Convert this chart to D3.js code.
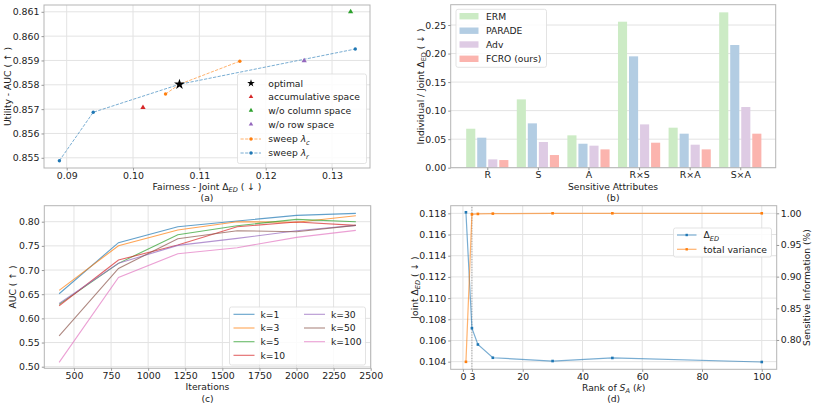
<!DOCTYPE html>
<html><head><meta charset="utf-8">
<script src="https://cdn.jsdelivr.net/npm/d3@7"></script>
<style>body{margin:0;background:#fff} svg text{font-family:"DejaVu Sans";fill:#222}</style>
</head><body><svg id="c" width="814" height="407"></svg>
<script>
// ---------- DATA ----------
// (a) trade-off
const aOptimal = [[0.1070, 0.85802]];
const aAccum = [[0.1015, 0.85707]];
const aNoCol = [[0.1328, 0.86100]];
const aNoRow = [[0.1258, 0.85899]];
const aSweepC = [[0.1049, 0.85762], [0.1070, 0.85802], [0.1161, 0.85897]];
const aSweepR = [[0.0889, 0.85488], [0.0940, 0.85687], [0.1070, 0.85802], [0.1335, 0.85947]];
const aXTicks = [0.09, 0.10, 0.11, 0.12, 0.13];
const aYTicks = [0.855, 0.856, 0.857, 0.858, 0.859, 0.860, 0.861];
// (b) bars
const bCategories = ["R", "S", "A", "R×S", "R×A", "S×A"];
const bMethods = ["ERM", "PARADE", "Adv", "FCRO (ours)"];
const bERM = [0.0683, 0.1197, 0.0567, 0.2558, 0.0701, 0.2722];
const bPARADE = [0.0526, 0.0777, 0.0420, 0.1951, 0.0596, 0.2150];
const bAdv = [0.0146, 0.0450, 0.0386, 0.0759, 0.0403, 0.1063];
const bFCRO = [0.0134, 0.0222, 0.0321, 0.0438, 0.0321, 0.0596];
const bYTicks = [0, 0.05, 0.10, 0.15, 0.20, 0.25];
// (c) curves
const cIters = [400, 800, 1200, 1600, 2000, 2400];
const cK1 = [0.651, 0.7566, 0.7897, 0.8014, 0.8131, 0.8172];
const cK3 = [0.658, 0.7503, 0.7828, 0.8000, 0.7990, 0.8124];
const cK5 = [0.629, 0.7138, 0.7731, 0.7917, 0.8048, 0.8000];
const cK10 = [0.6262, 0.7207, 0.7517, 0.7897, 0.7993, 0.7924];
const cK30 = [0.631, 0.7140, 0.7510, 0.7655, 0.7814, 0.7924];
const cK50 = [0.564, 0.7034, 0.7648, 0.7814, 0.7793, 0.7924];
const cK100 = [0.509, 0.6848, 0.7338, 0.7462, 0.7676, 0.7820];
const cLabels = ["k=1", "k=3", "k=5", "k=10", "k=30", "k=50", "k=100"];
const cXTicks = [500, 750, 1000, 1250, 1500, 1750, 2000, 2250, 2500];
const cYTicks = [0.50, 0.55, 0.60, 0.65, 0.70, 0.75, 0.80];
// (d) rank
const dRanks = [1, 3, 5, 10, 30, 50, 100];
const dDelta = [0.1181, 0.10716, 0.10562, 0.10437, 0.10406, 0.10435, 0.10397];
const dVar = [0.7655, 0.9984, 0.9990, 0.9995, 1.0000, 1.0000, 1.0000];
const dXTicks = [0, 3, 20, 40, 60, 80, 100];
const dYLTicks = [0.104, 0.106, 0.108, 0.110, 0.112, 0.114, 0.116, 0.118];
const dYRTicks = [0.80, 0.85, 0.90, 0.95, 1.00];

// ---------- STYLE ----------
const FS = 9.2, FT = 9.4;
const GRID = "#e3e3e3", SPINE = "#b5b5b5", TICK = "#999";
const TS = 2.5, TP = 1.5;
const C = {blue:"#1f77b4", orange:"#ff7f0e", green:"#2ca02c", red:"#d62728", purple:"#9467bd", brown:"#8c564b", pink:"#e377c2", black:"#000"};
const svg = d3.select("#c");

function rich(sel, parts) {
  parts.forEach(p => {
    const t = sel.append("tspan").text(p.t);
    if (p.it) t.attr("font-style", "italic");
    if (p.sub) t.attr("font-size", FS * 0.72).attr("dy", 2.4);
    if (p.up) t.attr("dy", -2.4);
  });
  return sel;
}

function frame(x, y, o) {
  const g = svg.append("g");
  const [x0, x1] = x.range(), [y0, y1] = y.range();
  if (o.vgrid) g.selectAll(null).data(o.xt).join("line")
    .attr("x1", d => x(d)).attr("x2", d => x(d)).attr("y1", y0).attr("y2", y1)
    .attr("stroke", GRID).attr("stroke-width", 1);
  if (o.hgrid !== false) g.selectAll(null).data(o.yt).join("line")
    .attr("y1", d => y(d)).attr("y2", d => y(d)).attr("x1", x0).attr("x2", x1)
    .attr("stroke", GRID).attr("stroke-width", 1);
  return g;
}

function styleAxis(a) {
  a.select(".domain").remove();
  a.selectAll(".tick line").attr("stroke", TICK);
  a.selectAll(".tick text").attr("font-size", FT).attr("fill", "#222").attr("font-family", "DejaVu Sans");
}

function axes(x, y, o) {
  const [x0, x1] = x.range(), [y0, y1] = y.range();
  const g = svg.append("g");
  g.append("rect").attr("x", x0).attr("y", y1).attr("width", x1 - x0).attr("height", y0 - y1)
    .attr("fill", "none").attr("stroke", SPINE).attr("stroke-width", 1);
  const ax = g.append("g").attr("transform", `translate(0,${y0})`)
    .call(d3.axisBottom(x).tickValues(o.xt).tickFormat(o.xf).tickSize(TS).tickPadding(TP));
  const ay = g.append("g").attr("transform", `translate(${x0},0)`)
    .call(d3.axisLeft(y).tickValues(o.yt).tickFormat(o.yf).tickSize(TS).tickPadding(TP + 0.5));
  styleAxis(ax); styleAxis(ay);
  return g;
}

function legendBox(x, y, w, h) {
  svg.append("rect").attr("x", x).attr("y", y).attr("width", w).attr("height", h)
    .attr("rx", 2).attr("fill", "rgba(255,255,255,0.85)").attr("stroke", "#dcdcdc").attr("stroke-width", 0.8);
}

const line = (x, y) => d3.line().x(d => x(d[0])).y(d => y(d[1]));

// ---------- (a) ----------
{
  const x = d3.scaleLinear().domain([0.08658, 0.13572]).range([44, 370]);
  const y = d3.scaleLinear().domain([0.85458, 0.86128]).range([168, 5]);
  frame(x, y, {xt: aXTicks, yt: aYTicks, vgrid: true});
  const series = [
    {d: aSweepC, c: C.orange}, {d: aSweepR, c: C.blue}
  ];
  series.forEach(s => {
    svg.append("path").attr("d", line(x, y)(s.d)).attr("fill", "none").attr("stroke", s.c)
      .attr("stroke-width", 1).attr("stroke-opacity", 0.6).attr("stroke-dasharray", "3.2,1.4");
    svg.selectAll(null).data(s.d).join("circle").attr("cx", d => x(d[0])).attr("cy", d => y(d[1]))
      .attr("r", 1.7).attr("fill", s.c);
  });
  const tri = d3.symbol().type(d3.symbolTriangle).size(12);
  [[aAccum, C.red], [aNoCol, C.green], [aNoRow, C.purple]].forEach(([d, c]) => {
    svg.selectAll(null).data(d).join("path").attr("d", tri)
      .attr("transform", p => `translate(${x(p[0])},${y(p[1])})`).attr("fill", c);
  });
  svg.selectAll(null).data(aOptimal).join("path").attr("d", d3.symbol().type(d3.symbolStar).size(36))
    .attr("transform", p => `translate(${x(p[0])},${y(p[1])})`).attr("fill", "#000");
  axes(x, y, {xt: aXTicks, yt: aYTicks, xf: d3.format(".2f"), yf: d3.format(".3f")});
  // legend
  legendBox(237.5, 74, 129, 89.5);
  const items = [
    {t: [{t: "optimal"}], k: "star", c: "#000"},
    {t: [{t: "accumulative space"}], k: "tri", c: C.red},
    {t: [{t: "w/o column space"}], k: "tri", c: C.green},
    {t: [{t: "w/o row space"}], k: "tri", c: C.purple},
    {t: [{t: "sweep "}, {t: "λ", it: true}, {t: "c", it: true, sub: true}], k: "line", c: C.orange},
    {t: [{t: "sweep "}, {t: "λ", it: true}, {t: "r", it: true, sub: true}], k: "line", c: C.blue}
  ];
  const ys = [83.3, 96.8, 110.5, 124.3, 139, 153];
  items.forEach((it, i) => {
    const yy = ys[i];
    if (it.k === "star") svg.append("path").attr("d", d3.symbol().type(d3.symbolStar).size(18)).attr("transform", `translate(251,${yy})`).attr("fill", it.c);
    if (it.k === "tri") svg.append("path").attr("d", d3.symbol().type(d3.symbolTriangle).size(9)).attr("transform", `translate(251,${yy})`).attr("fill", it.c);
    if (it.k === "line") {
      svg.append("line").attr("x1", 240.5).attr("x2", 261).attr("y1", yy).attr("y2", yy).attr("stroke", it.c)
        .attr("stroke-opacity", 0.6).attr("stroke-dasharray", "3.2,1.4");
      svg.append("circle").attr("cx", 251).attr("cy", yy).attr("r", 1.7).attr("fill", it.c);
    }
    rich(svg.append("text").attr("x", 268.3).attr("y", yy + 3.4).attr("font-size", FS), it.t);
  });
  rich(svg.append("text").attr("x", 207).attr("y", 189.5).attr("text-anchor", "middle").attr("font-size", FS),
    [{t: "Fairness - Joint Δ"}, {t: "ED", it: true, sub: true}, {t: " ( ↓ )", up: true}]);
  svg.append("text").attr("x", 207).attr("y", 200.5).attr("text-anchor", "middle").attr("font-size", FS).text("(a)");
  svg.append("text").attr("transform", "translate(10.5,86.5) rotate(-90)").attr("text-anchor", "middle").attr("font-size", FS).text("Utility - AUC ( ↑ )");
}

// ---------- (b) ----------
{
  const x = d3.scaleLinear().domain([-0.723, 5.70]).range([450.7, 775.7]);
  const y = d3.scaleLinear().domain([0, 0.2856]).range([167.7, 4.7]);
  frame(x, y, {xt: [], yt: bYTicks});
  const vals = [bERM, bPARADE, bAdv, bFCRO];
  const cols = ["#ccebc5", "#b3cde3", "#decbe4", "#fbb4ae"];
  const step = 0.218, bw = 0.18;
  vals.forEach((v, j) => {
    svg.selectAll(null).data(v).join("rect")
      .attr("x", (d, i) => x(i + (j - 1.5) * step - bw / 2))
      .attr("width", x(bw) - x(0))
      .attr("y", d => y(d)).attr("height", d => y(0) - y(d))
      .attr("fill", cols[j]);
  });
  axes(x, y, {xt: d3.range(bCategories.length), yt: bYTicks, xf: i => bCategories[i], yf: d3.format(".2f")});
  legendBox(456, 9.3, 90.5, 58);
  bMethods.forEach((m, j) => {
    const yy = [16.2, 30.7, 44.5, 58.8][j];
    svg.append("rect").attr("x", 459.5).attr("y", yy - 3.2).attr("width", 19).attr("height", 6.4).attr("fill", cols[j]);
    svg.append("text").attr("x", 486).attr("y", yy + 3.4).attr("font-size", FS).text(m);
  });
  svg.append("text").attr("x", 613).attr("y", 189.5).attr("text-anchor", "middle").attr("font-size", FS).text("Sensitive Attributes");
  svg.append("text").attr("x", 613).attr("y", 200.5).attr("text-anchor", "middle").attr("font-size", FS).text("(b)");
  rich(svg.append("text").attr("transform", "translate(423.5,86.5) rotate(-90)").attr("text-anchor", "middle").attr("font-size", FS),
    [{t: "Individual / Joint Δ"}, {t: "ED", sub: true}, {t: " ( ↓ )", up: true}]);
}

// ---------- (c) ----------
{
  const x = d3.scaleLinear().domain([300, 2500]).range([44.3, 370.7]);
  const y = d3.scaleLinear().domain([0.4967, 0.8331]).range([368.3, 205.7]);
  frame(x, y, {xt: cXTicks, yt: cYTicks, vgrid: true});
  const ser = [cK1, cK3, cK5, cK10, cK30, cK50, cK100];
  const cols = [C.blue, C.orange, C.green, C.red, C.purple, C.brown, C.pink];
  ser.forEach((s, i) => {
    svg.append("path").attr("d", line(x, y)(cIters.map((it, j) => [it, s[j]])))
      .attr("fill", "none").attr("stroke", cols[i]).attr("stroke-width", 1.1).attr("stroke-opacity", 0.7);
  });
  axes(x, y, {xt: cXTicks, yt: cYTicks, xf: d3.format("d"), yf: d3.format(".2f")});
  legendBox(229.5, 307, 136, 58);
  cLabels.forEach((l, i) => {
    const col = i < 4 ? 0 : 1, row = i < 4 ? i : i - 4;
    const yy = [314.3, 328, 341.7, 355.3][row];
    const lx = col ? 304 : 233.5;
    svg.append("line").attr("x1", lx).attr("x2", lx + 21).attr("y1", yy).attr("y2", yy)
      .attr("stroke", cols[i]).attr("stroke-width", 1.1).attr("stroke-opacity", 0.7);
    svg.append("text").attr("x", lx + 27).attr("y", yy + 3.4).attr("font-size", FS).text(l);
  });
  svg.append("text").attr("x", 207.5).attr("y", 390).attr("text-anchor", "middle").attr("font-size", FS).text("Iterations");
  svg.append("text").attr("x", 207.5).attr("y", 402).attr("text-anchor", "middle").attr("font-size", FS).text("(c)");
  svg.append("text").attr("transform", "translate(15.5,287) rotate(-90)").attr("text-anchor", "middle").attr("font-size", FS).text("AUC ( ↑ )");
}

// ---------- (d) ----------
{
  const x = d3.scaleLinear().domain([-4.1, 105]).range([450.7, 776.7]);
  const yl = d3.scaleLinear().domain([0.10328, 0.11872]).range([369.3, 205.7]);
  const yr = d3.scaleLinear().domain([0.7537, 1.012]).range([369.3, 205.7]);
  frame(x, yl, {xt: dXTicks, yt: dYLTicks, vgrid: true});
  svg.append("line").attr("x1", x(3)).attr("x2", x(3)).attr("y1", 369.3).attr("y2", 205.7)
    .attr("stroke", "#999").attr("stroke-width", 1).attr("stroke-dasharray", "1,1.6");
  const ds = [{v: dDelta, y: yl, c: C.blue}, {v: dVar, y: yr, c: C.orange}];
  ds.forEach(s => {
    const pts = dRanks.map((r, i) => [r, s.v[i]]);
    svg.append("path").attr("d", line(x, s.y)(pts)).attr("fill", "none").attr("stroke", s.c)
      .attr("stroke-width", 1.2).attr("stroke-opacity", 0.6);
    svg.selectAll(null).data(pts).join("rect").attr("x", d => x(d[0]) - 1.3).attr("y", d => s.y(d[1]) - 1.3)
      .attr("width", 2.6).attr("height", 2.6).attr("fill", s.c);
  });
  axes(x, yl, {xt: dXTicks, yt: dYLTicks, xf: d3.format("d"), yf: d3.format(".3f")});
  const ar = svg.append("g").attr("transform", "translate(776.7,0)")
    .call(d3.axisRight(yr).tickValues(dYRTicks).tickFormat(d3.format(".2f")).tickSize(TS).tickPadding(TP));
  styleAxis(ar);
  legendBox(673.5, 228, 98, 29);
  [{t: [{t: "Δ"}, {t: "ED", it: true, sub: true}], c: C.blue}, {t: [{t: "total variance"}], c: C.orange}].forEach((it, i) => {
    const yy = [235, 249.3][i];
    svg.append("line").attr("x1", 677).attr("x2", 696.5).attr("y1", yy).attr("y2", yy).attr("stroke", it.c)
      .attr("stroke-width", 1.2).attr("stroke-opacity", 0.6);
    svg.append("rect").attr("x", 685.5).attr("y", yy - 1.2).attr("width", 2.4).attr("height", 2.4).attr("fill", it.c);
    rich(svg.append("text").attr("x", 703.5).attr("y", yy + 3.4).attr("font-size", FS), it.t);
  });
  rich(svg.append("text").attr("x", 613.7).attr("y", 390.5).attr("text-anchor", "middle").attr("font-size", FS),
    [{t: "Rank of "}, {t: "S", it: true}, {t: "A", it: true, sub: true}, {t: " (", up: true}, {t: "k", it: true}, {t: ")"}]);
  svg.append("text").attr("x", 613.7).attr("y", 402).attr("text-anchor", "middle").attr("font-size", FS).text("(d)");
  rich(svg.append("text").attr("transform", "translate(417.5,287.5) rotate(-90)").attr("text-anchor", "middle").attr("font-size", FS),
    [{t: "Joint Δ"}, {t: "ED", it: true, sub: true}, {t: " ( ↓ )", up: true}]);
  svg.append("text").attr("transform", "translate(810,287.5) rotate(-90)").attr("text-anchor", "middle").attr("font-size", FS).text("Sensitive Information (%)");
}
</script></body></html>
